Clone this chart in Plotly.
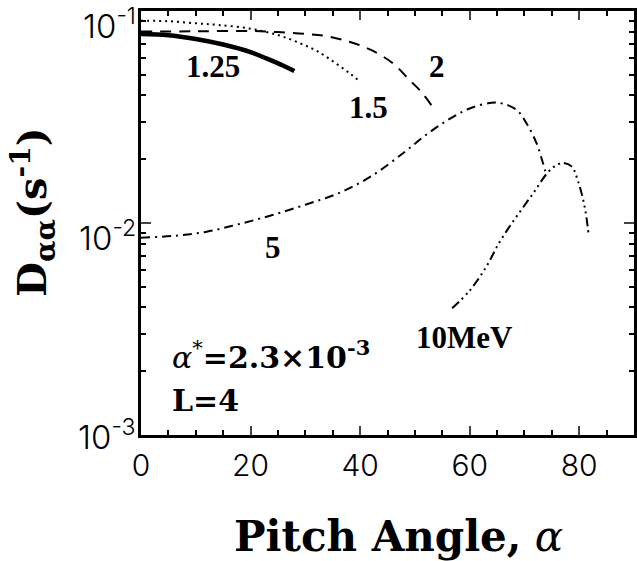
import plotly.graph_objects as go
import math

# ---- data ----
x_125 = [0, 5, 10, 15, 20, 23, 26, 28]
y_125 = [0.0778, 0.0769, 0.0738, 0.0695, 0.0640, 0.0596, 0.0552, 0.0521]

x_15 = [0, 5, 10, 14, 20, 25, 29, 32, 35, 38, 40]
y_15 = [0.0900, 0.0895, 0.0875, 0.0860, 0.0825, 0.0770, 0.0705, 0.0650, 0.0580, 0.0510, 0.0464]

x_2 = [0, 10, 20, 25, 30, 34, 38, 42, 46, 49, 51, 53]
y_2 = [0.0800, 0.0802, 0.0805, 0.0795, 0.0780, 0.0760, 0.0716, 0.0655, 0.0566, 0.0473, 0.0420, 0.0360]

x_5 = [0, 6, 12, 18, 24, 30, 36, 42, 48, 52, 56, 60, 64, 66, 68.6, 70.4, 72.2, 73.4, 74]
y_5 = [0.00853, 0.0087, 0.0091, 0.0099, 0.0109, 0.0122, 0.0138, 0.0166, 0.0215, 0.0260,
       0.0306, 0.0347, 0.0369, 0.0366, 0.0341, 0.0295, 0.0238, 0.0191, 0.0168]

x_10 = [56.8, 60, 63, 65.3, 67.5, 69.8, 72, 74, 75.5, 77, 78.6, 79.8, 81, 81.7]
y_10 = [0.00396, 0.0048, 0.0062, 0.0080, 0.0098, 0.0119, 0.0143, 0.0170, 0.0185, 0.0192,
        0.0185, 0.0157, 0.0119, 0.0089]

curve_labels = ["1.25", "1.5", "2", "5", "10MeV"]
label_x = [13.2, 41.6, 54.1, 24.1, 59.1]
label_y = [0.0545, 0.0349, 0.0545, 0.0077, 0.00287]

x_ticks = [0, 20, 40, 60, 80]
y_ticks = [1e-3, 1e-2, 1e-1]
y_tick_exp = ["-3", "-2", "-1"]

W, H = 637, 561
PX_L, PX_R, PX_T, PX_B = 141, 637, 11, 435          # plot box in pixels
L, R, T, B = PX_L, W - PX_R, PX_T, H - PX_B
pw, ph = PX_R - PX_L, PX_B - PX_T


def px2paper(px, py):
    return (px - PX_L) / pw, (PX_B - py) / ph


fig = go.Figure()
serif_b = "DejaVu Serif"
tick_font = dict(family="Inter", size=30, color="black", weight=300)

fig.add_trace(go.Scatter(x=x_125, y=y_125, mode="lines", line=dict(color="black", width=4.5), line_shape="spline"))
fig.add_trace(go.Scatter(x=x_15, y=y_15, mode="lines", line=dict(color="black", width=2, dash="2px,4px"), line_shape="spline"))
fig.add_trace(go.Scatter(x=x_2, y=y_2, mode="lines", line=dict(color="black", width=2, dash="11px,8px"), line_shape="spline"))
fig.add_trace(go.Scatter(x=x_5, y=y_5, mode="lines", line=dict(color="black", width=2, dash="9px,5px,2px,5px"), line_shape="spline"))
fig.add_trace(go.Scatter(x=x_10, y=y_10, mode="lines",
                         line=dict(color="black", width=2, dash="9px,4px,2px,4px,2px,4px,2px,4px"), line_shape="spline"))
# invisible copy on the mirror axes so the top/right tick marks are drawn
fig.add_trace(go.Scatter(x=x_125, y=y_125, mode="lines", xaxis="x2", yaxis="y2", opacity=0,
                         hoverinfo="skip", line=dict(color="black", width=1)))

ann = []
for t, xx, yy in zip(curve_labels, label_x, label_y):
    ann.append(dict(x=xx, y=math.log10(yy), xref="x", yref="y", text="<b>%s</b>" % t, showarrow=False,
                    xanchor="center", yanchor="middle",
                    font=dict(family="Liberation Serif", size=31, color="black")))

ann.append(dict(x=5.3, y=math.log10(0.00238), xref="x", yref="y", xanchor="left", yanchor="middle",
                text="<i>α</i><sup>*</sup><b>=2.3×10</b><sup><b>-3</b></sup>", showarrow=False,
                font=dict(family=serif_b, size=30, color="black")))
ann.append(dict(x=5.3, y=math.log10(0.00146), xref="x", yref="y", xanchor="left", yanchor="middle",
                text="<b>L=4</b>", showarrow=False,
                font=dict(family=serif_b, size=30, color="black")))

# y tick labels
for v, e in zip(y_ticks, y_tick_exp):
    ys = 0 if v == y_ticks[0] else -13
    ann.append(dict(x=0, y=math.log10(v), xref="paper", yref="y", xanchor="right", yanchor="middle",
                    xshift=-3, yshift=ys,
                    text="10<sup>%s</sup>" % e, showarrow=False,
                    font=dict(family="Inter", size=33, color="black", weight=300)))

# axis titles
tx, ty = px2paper(400, 536)
ann.append(dict(x=tx, y=ty, xref="paper", yref="paper", xanchor="center", yanchor="middle",
                text="<b>Pitch Angle,</b> <i>α</i>", showarrow=False,
                font=dict(family=serif_b, size=42, color="black")))
tx, ty = px2paper(32, 212)
ann.append(dict(x=tx, y=ty, xref="paper", yref="paper", textangle=-90, xanchor="center", yanchor="middle",
                text="<b>D<sub>αα</sub>(s<sup>-1</sup>)</b>", showarrow=False,
                font=dict(family=serif_b, size=40, color="black")))

x_minor = dict(dtick=5, ticks="inside", ticklen=5, tickwidth=1.5, tickcolor="black", showgrid=False)
y_minor = dict(tickvals=[k * 10 ** p for p in (-3, -2) for k in range(2, 10)],
               ticks="inside", ticklen=5, tickwidth=1.5, tickcolor="black", showgrid=False)

fig.update_layout(
    width=W, height=H, margin=dict(l=L, r=R, t=T, b=B, pad=0),
    paper_bgcolor="white", plot_bgcolor="white", showlegend=False,
    annotations=ann,
    xaxis=dict(range=[0, 90], tickvals=x_ticks, ticks="inside", ticklen=9, tickwidth=2,
               showline=True, linewidth=2.5, linecolor="black", mirror="allticks",
               showgrid=False, zeroline=False, tickfont=tick_font, ticklabelstandoff=2,
               minor=x_minor),
    yaxis=dict(type="log", range=[-3, -1], tickvals=y_ticks, ticks="inside", ticklen=10, tickwidth=2,
               showticklabels=False, mirror="allticks",
               showline=True, linewidth=2.5, linecolor="black",
               showgrid=False, zeroline=False, minor=y_minor),
    xaxis2=dict(overlaying="x", side="top", anchor="y2", range=[0, 90], tickvals=x_ticks,
                ticks="inside", ticklen=9, tickwidth=2, showticklabels=False,
                showline=True, linewidth=2.5, linecolor="black",
                showgrid=False, zeroline=False, minor=x_minor),
    yaxis2=dict(overlaying="y", side="right", anchor="x2", type="log", range=[-3, -1], tickvals=y_ticks,
                ticks="inside", ticklen=10, tickwidth=2, showticklabels=False,
                showline=True, linewidth=2.5, linecolor="black",
                showgrid=False, zeroline=False, minor=y_minor),
)

fig.write_html("out.html", config={"displayModeBar": False},
               post_script="document.body.style.margin='0';")
